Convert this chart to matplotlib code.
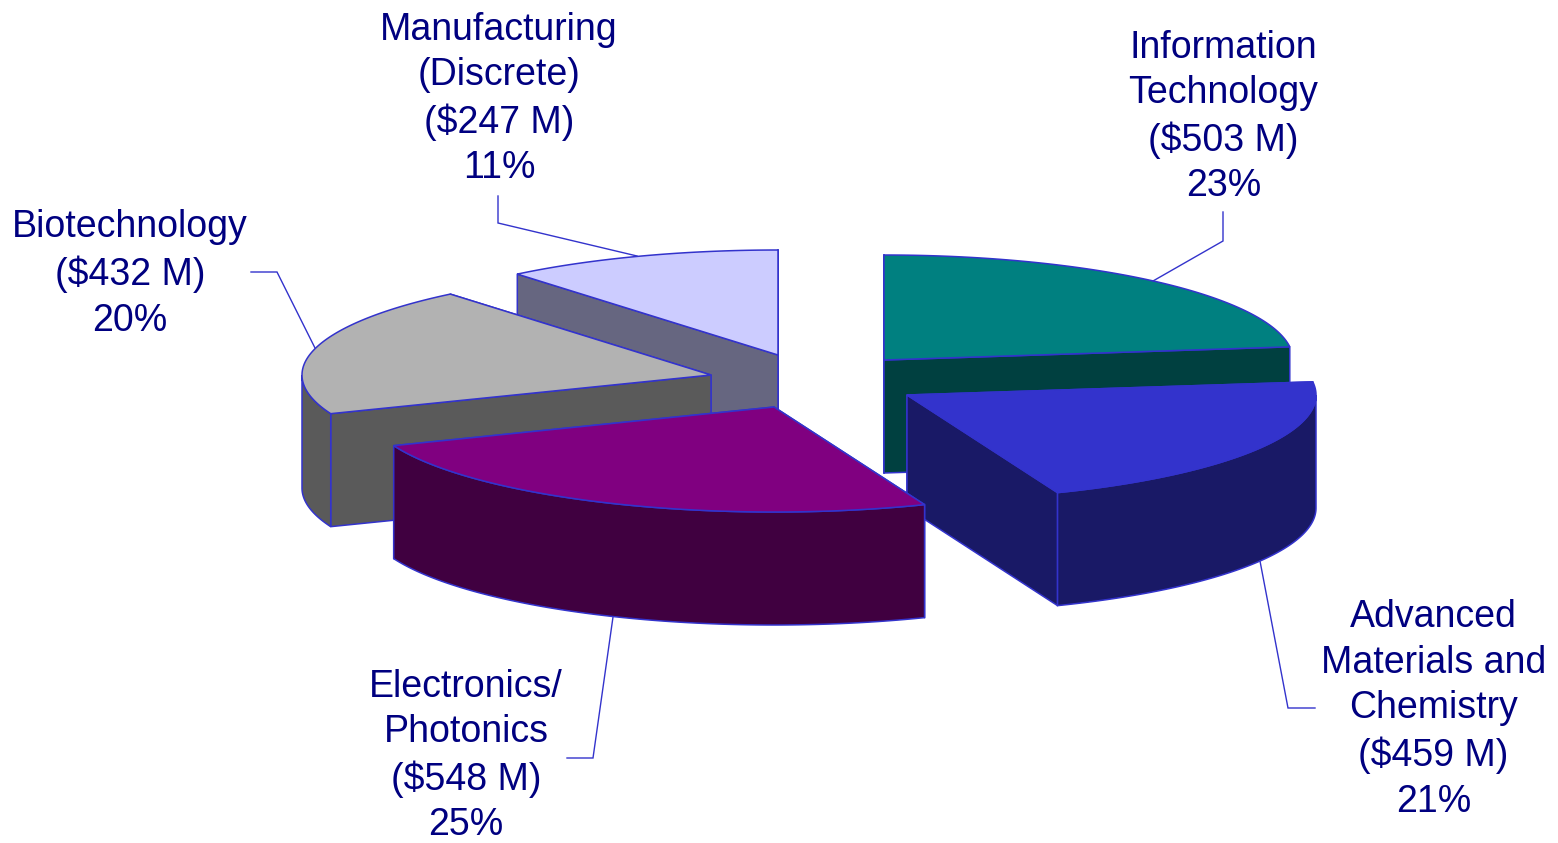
import numpy as np
import matplotlib
matplotlib.use("Agg")
import matplotlib.pyplot as plt
from matplotlib.patches import Polygon

sectors = ["Information\nTechnology", "Advanced\nMaterials and\nChemistry", "Electronics/\nPhotonics",
           "Biotechnology", "Manufacturing\n(Discrete)"]
millions = [503, 459, 548, 432, 247]
percents = [23, 21, 25, 20, 11]

top_colors = ["#008080", "#3333cc", "#800080", "#b2b2b2", "#ccccff"]
side_colors = ["#004040", "#191966", "#400040", "#5a5a5a", "#666680"]
edge_color = "#3333cc"
text_color = "#000080"

# pie geometry, pixels
rx = 409
ry = 105
depth = 113
# exploded centre of each slice
centers = [(884, 360), (907, 395), (774, 407), (711, 375), (778, 355)]
# order the slices get painted in, back to front
paint_order = [4, 3, 0, 1, 2]

label_pos = [(1223.5, 117), (1433.5, 709.5), (466, 756), (130, 274), (499, 99)]
leaders = [
    [(1223, 212), (1223, 241), (1153, 281)],
    [(1315, 708), (1288, 708), (1260, 561)],
    [(567, 758), (593, 758), (613, 617)],
    [(251, 272), (277, 272), (315, 348)],
    [(498, 196), (498, 223), (637, 256)],
]

fig = plt.figure(figsize=(15.58, 8.43), dpi=100)
ax = fig.add_axes([0, 0, 1, 1])
ax.set_xlim(0, 1558)
ax.set_ylim(843, 0)
ax.axis("off")


def rim_point(c, ang):
    # angle runs clockwise from 12 o'clock
    return c[0] + rx * np.sin(ang), c[1] - ry * np.cos(ang)


def draw_slice(c, a0, a1, top, side):
    p0 = rim_point(c, a0)
    p1 = rim_point(c, a1)
    faces = [p0, p1]
    faces.sort(key=lambda p: p[1])
    for p in faces:
        ax.add_patch(Polygon([c, p, (p[0], p[1] + depth), (c[0], c[1] + depth)],
                             closed=True, fc=side, ec=edge_color, lw=1.1, joinstyle="round"))

    # only the part of the rim that faces the viewer gets drawn
    lo = max(a0, np.pi / 2)
    hi = min(a1, 3 * np.pi / 2)
    if hi > lo:
        t = np.linspace(lo, hi, 120)
        xs, ys = rim_point(c, t)
        rim = np.r_[np.c_[xs, ys], np.c_[xs[::-1], ys[::-1] + depth]]
        ax.add_patch(Polygon(rim, closed=True, fc=side, ec=edge_color, lw=1.1))

    t = np.linspace(a0, a1, 200)
    xs, ys = rim_point(c, t)
    outline = np.r_[[c], np.c_[xs, ys]]
    ax.add_patch(Polygon(outline, closed=True, fc=top, ec=edge_color, lw=1.1))


stops = np.r_[0, np.cumsum(percents)] / 100 * 2 * np.pi

for i in paint_order:
    draw_slice(centers[i], stops[i], stops[i + 1], top_colors[i], side_colors[i])

for i in range(len(sectors)):
    pts = np.array(leaders[i])
    ax.plot(pts[:, 0], pts[:, 1], color=edge_color, lw=1.0, solid_joinstyle="miter")
    label = "%s\n($%d M)\n%d%%" % (sectors[i], millions[i], percents[i])
    ax.text(label_pos[i][0], label_pos[i][1], label.replace("$", r"\$"), color=text_color,
            family="Liberation Sans", fontsize=27, ha="center", va="center",
            multialignment="center", linespacing=1.345)

fig.savefig("out.png", dpi=100, facecolor="white")
